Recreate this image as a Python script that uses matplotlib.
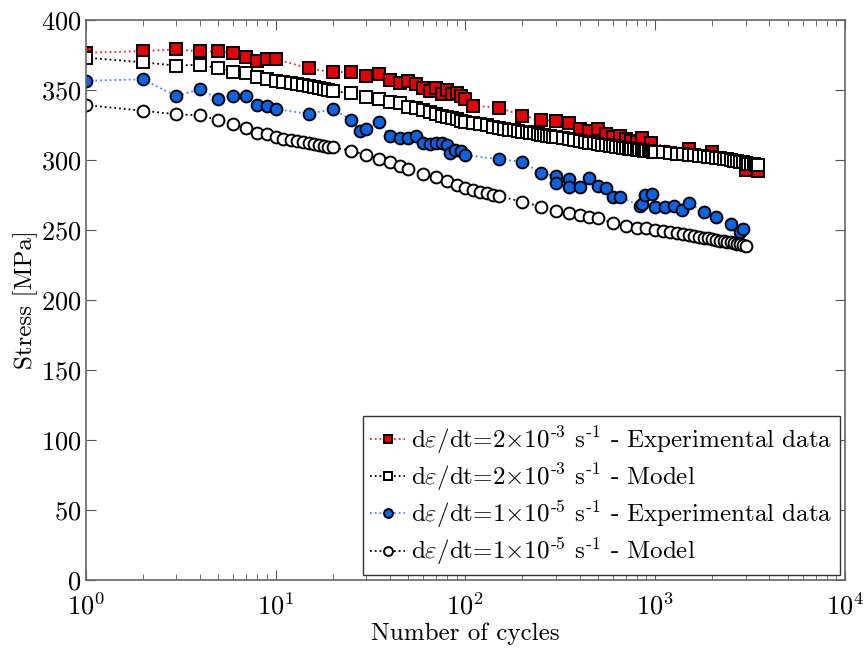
import matplotlib
matplotlib.use("Agg")
import matplotlib.pyplot as plt
import numpy as np

plt.rcParams['font.family'] = ['cmr10', 'DejaVu Serif']
plt.rcParams['mathtext.fontset'] = 'cm'
plt.rcParams['axes.formatter.use_mathtext'] = True

# experimental data, 2e-3 1/s (red squares)
n_exp_fast = [1, 2, 3, 4, 5, 6, 7, 8, 9, 10, 15, 20, 25, 30, 35, 40, 45, 50, 55,
              60, 65, 70, 75, 80, 85, 90, 95, 100, 110, 150, 200, 250, 300, 350,
              400, 450, 500, 550, 600, 650, 700, 750, 800, 850, 950, 1500, 2000,
              3000, 3500]
s_exp_fast = [376.4, 377.6, 378.8, 377.4, 377.4, 376.0, 373.4, 370.7, 371.9, 371.9,
              365.3, 362.4, 362.9, 360.0, 361.2, 357.0, 354.6, 356.5, 353.9, 351.4,
              349.1, 351.0, 346.7, 349.8, 346.7, 347.4, 345.7, 343.4, 338.6, 337.2,
              331.5, 328.4, 327.7, 326.0, 322.3, 320.5, 321.7, 318.2, 316.5, 317.2,
              314.8, 313.4, 312.9, 315.8, 311.7, 307.7, 305.3, 292.7, 292.0]

# model, 2e-3 1/s (open squares)
n_mod_fast = [1, 2, 3, 4, 5, 6, 7, 8, 9, 10, 11, 12, 13, 14, 15, 16, 17, 18, 19, 20,
              25, 30, 35, 40, 45, 50, 55, 60, 65, 70, 75, 80, 85, 90, 95, 100,
              110, 120, 130, 140, 150, 160, 170, 180, 190, 200, 210, 220, 230, 240,
              250, 260, 270, 280, 290, 300, 325, 350, 375, 400, 425, 450, 475, 500,
              525, 550, 575, 600, 625, 650, 675, 700, 725, 750, 775, 800, 825, 850,
              875, 900, 925, 950, 975, 1000, 1100, 1200, 1300, 1400, 1500, 1600,
              1700, 1800, 1900, 2000, 2100, 2200, 2300, 2400, 2500, 2600, 2700,
              2800, 2900, 3000, 3100, 3200, 3300, 3400, 3500]
s_mod_fast = [372.9, 369.6, 367.2, 367.9, 365.3, 362.9, 361.7, 358.9, 357.4, 356.4,
              355.5, 354.8, 354.0, 353.3, 352.6, 351.9, 351.2, 350.5, 349.8, 349.1,
              347.4, 344.6, 343.2, 341.5, 340.3, 337.9, 337.2, 335.5, 334.0, 332.5,
              331.4, 330.3, 329.6, 328.9, 328.0, 327.2,
              326.3, 325.4, 324.5, 323.7, 322.4, 321.9, 321.4, 320.9, 320.4, 320.0,
              319.6, 319.2, 318.8, 318.4, 318.0, 317.6, 317.2, 316.8, 316.4, 316.0,
              315.4, 314.7, 314.1, 313.4, 312.8, 312.2, 311.7, 311.2, 310.8, 310.4,
              310.0, 309.6, 309.2, 308.9, 308.6, 308.3, 308.0, 307.7, 307.4, 307.2,
              306.9, 306.7, 306.5, 306.3, 306.1, 306.0, 305.9, 305.8, 305.2, 304.7,
              304.2, 303.8, 303.4, 303.1, 302.7, 302.4, 302.1, 301.8, 301.4, 301.0,
              300.6, 300.2, 299.8, 299.4, 299.0, 298.6, 298.2, 297.6, 297.3, 297.0,
              296.8, 296.5, 296.3]

# experimental data, 1e-5 1/s (blue circles)
n_exp_slow = [1, 2, 3, 4, 5, 6, 7, 8, 9, 10, 15, 20, 25, 28, 30, 35, 40, 45, 50, 55,
              60, 65, 70, 75, 80, 83, 88, 95, 100, 150, 200, 250, 300, 300, 350, 350,
              400, 450, 500, 550, 600, 650, 830, 850, 885, 960, 1000, 1130, 1250,
              1380, 1500, 1800, 2100, 2500, 2800, 2900]
s_exp_slow = [356.4, 357.4, 345.5, 350.3, 343.4, 345.5, 345.5, 339.1, 338.6, 336.2,
              332.7, 336.2, 328.4, 320.8, 322.0, 326.7, 317.2, 315.8, 315.3, 317.0,
              311.8, 311.0, 312.2, 312.2, 310.5, 305.0, 307.0, 306.5, 303.4, 300.3,
              298.6, 290.3, 288.4, 283.6, 286.0, 280.8, 280.3, 287.2, 281.3, 280.0,
              273.6, 273.6, 267.2, 268.2, 274.8, 275.3, 266.5, 266.0, 267.2, 264.1,
              268.9, 262.9, 258.9, 253.9, 248.6, 250.6]

# model, 1e-5 1/s (open circles)
n_mod_slow = [1, 2, 3, 4, 5, 6, 7, 8, 9, 10, 11, 12, 13, 14, 15, 16, 17, 18, 19, 20,
              25, 30, 35, 40, 45, 50, 60, 70, 80, 90, 100, 110, 120, 130, 140, 150,
              200, 250, 300, 350, 400, 450, 500, 600, 700, 800, 900, 1000, 1100,
              1200, 1300, 1400, 1500, 1600, 1700, 1800, 1900, 2000, 2100, 2200,
              2300, 2400, 2500, 2600, 2700, 2800, 2900, 3000]
s_mod_slow = [339.1, 335.0, 332.5, 331.7, 328.4, 325.5, 322.5, 319.3, 318.2, 316.0,
              314.9, 314.0, 313.3, 312.6, 312.0, 311.3, 310.6, 310.0, 309.4, 308.9,
              306.5, 303.4, 300.5, 298.6, 295.5, 293.4, 289.8, 287.5, 285.0, 282.0,
              279.6, 278.5, 277.3, 276.2, 275.1, 274.1, 270.0, 266.5, 263.6, 262.2,
              260.6, 259.2, 258.2, 255.1, 252.7, 251.5, 251.0, 249.9, 249.1, 248.4,
              247.6, 246.9, 246.3, 245.7, 245.0, 244.4, 243.8, 243.2, 242.8, 242.3,
              241.9, 241.5, 241.1, 240.6, 240.1, 239.6, 239.1, 238.6]

labels = [r'd$\varepsilon$/dt=2$\times$10$^{\text{-}3}$ s$^{\text{-}1}$ - Experimental data',
          r'd$\varepsilon$/dt=2$\times$10$^{\text{-}3}$ s$^{\text{-}1}$ - Model',
          r'd$\varepsilon$/dt=1$\times$10$^{\text{-}5}$ s$^{\text{-}1}$ - Experimental data',
          r'd$\varepsilon$/dt=1$\times$10$^{\text{-}5}$ s$^{\text{-}1}$ - Model']

fig = plt.figure(figsize=(8.64, 6.48), dpi=100)
ax = fig.add_axes([0.0992, 0.105, 0.8788, 0.8646])

ms = 8
ax.plot(n_exp_fast, s_exp_fast, ':', color='#ff2020', lw=1.3, marker='s', ms=ms,
        mfc='#e80000', mec='black', mew=1.4, label=labels[0])
ax.plot(n_mod_fast, s_mod_fast, ':', color='black', lw=1.3, marker='s', ms=ms,
        mfc='white', mec='black', mew=1.4, label=labels[1])
ax.plot(n_exp_slow, s_exp_slow, ':', color='#3a8cff', lw=1.3, marker='o', ms=ms + 0.5,
        mfc='#0a64e6', mec='black', mew=1.4, label=labels[2])
ax.plot(n_mod_slow, s_mod_slow, ':', color='black', lw=1.3, marker='o', ms=ms + 0.5,
        mfc='white', mec='black', mew=1.4, label=labels[3])

ax.set_xscale('log')
ax.set_xlim(1, 1e4)
ax.set_ylim(0, 400)
ax.set_yticks(np.arange(0, 401, 50))

ax.tick_params(which='both', direction='in', top=True, right=True, color='#555555')
ax.tick_params(which='major', length=7, labelsize=19, pad=3)
ax.tick_params(which='minor', length=4)
ax.tick_params(axis='x', which='major', labelsize=19, pad=9)
for sp in ax.spines.values():
    sp.set_color('#666666')
    sp.set_linewidth(1.2)

ax.set_xlabel('Number of cycles', fontsize=18, labelpad=2)
ax.set_ylabel('Stress [MPa]', fontsize=18, labelpad=2)

leg = ax.legend(loc='lower right', fontsize=18, fancybox=False, framealpha=1,
                edgecolor='#333333', handlelength=1.4, handletextpad=0.25,
                markerscale=0.75, borderaxespad=0.2, labelspacing=0.22,
                borderpad=0.3)
leg.get_frame().set_linewidth(1.0)

fig.savefig('out.png', dpi=100)
